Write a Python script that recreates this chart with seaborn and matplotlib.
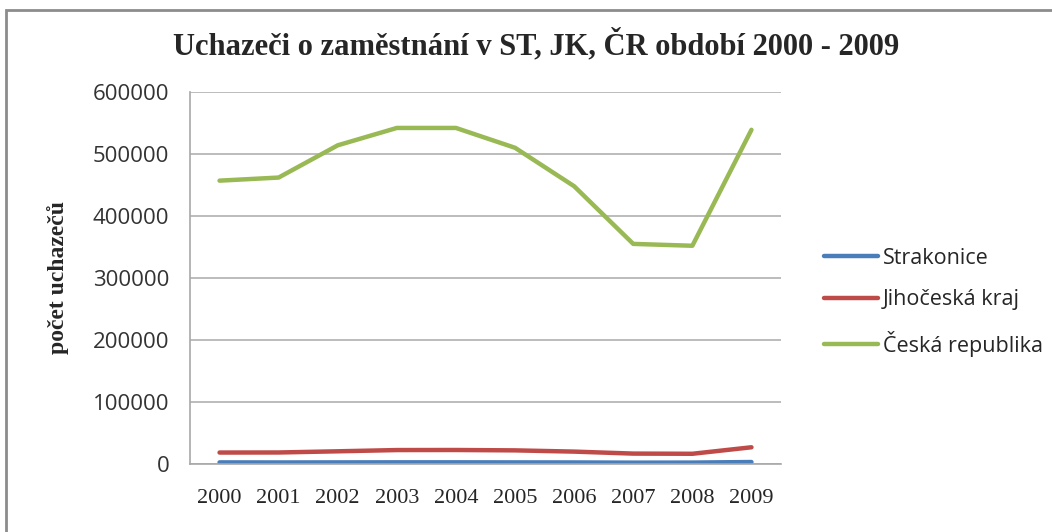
import matplotlib
matplotlib.use("Agg")
import matplotlib.pyplot as plt
from matplotlib.patches import Rectangle
import pandas as pd
import seaborn as sns

# data
years = ["2000", "2001", "2002", "2003", "2004", "2005", "2006", "2007", "2008", "2009"]
strakonice = [2600, 2500, 2600, 2700, 2700, 2600, 2500, 2200, 2300, 3200]
jihoceska = [18500, 18600, 20500, 22500, 22600, 22000, 20000, 16800, 16500, 27000]
cr = [457000, 462000, 514000, 542000, 542000, 510000, 448000, 355000, 352000, 539000]
series_names = ["Strakonice", "Jihočeská kraj", "Česká republika"]
colors = ["#4A7EBB", "#BE4B48", "#98B954"]

df = pd.DataFrame({
    "rok": years * 3,
    "pocet": strakonice + jihoceska + cr,
    "rada": [series_names[0]] * 10 + [series_names[1]] * 10 + [series_names[2]] * 10,
})

sns.set_style("white")
fig = plt.figure(figsize=(10.52, 5.32), dpi=100)
ax = fig.add_axes([0.1806, 0.1278, 0.7424 - 0.1806, 0.8271 - 0.1278])

sns.lineplot(data=df, x="rok", y="pocet", hue="rada", hue_order=series_names,
             palette=colors, linewidth=3.2, ax=ax, sort=False)

ax.set_xlim(-0.5, 9.5)
ax.set_ylim(0, 600000)
ax.set_yticks(range(0, 600001, 100000))
ax.yaxis.grid(True, color="#B0B0B0", linewidth=1.2)
ax.xaxis.grid(False)
for s in ["top", "right"]:
    ax.spines[s].set_visible(False)
for s in ["left", "bottom"]:
    ax.spines[s].set_color("#A8A8A8")
    ax.spines[s].set_linewidth(1.2)
ax.tick_params(axis="y", length=0, pad=15)
ax.tick_params(axis="x", length=0, pad=18)
for lab in ax.get_yticklabels():
    lab.set_fontfamily("Open Sans")
    lab.set_fontsize(16)
    lab.set_color("#333333")
for lab in ax.get_xticklabels():
    lab.set_fontfamily("Liberation Serif")
    lab.set_fontsize(16)
ax.set_xlabel("")
ax.set_ylabel("počet uchazečů", fontfamily="Liberation Serif", fontsize=17,
              fontweight="bold", labelpad=17)

ax.legend(title=None, frameon=False, loc="center left", bbox_to_anchor=(1.04, 0.435),
          prop={"family": "Open Sans", "size": 15.5}, handlelength=2.5,
          handletextpad=0.25, labelspacing=0.95)

fig.text(0.51, 0.915, "Uchazeči o zaměstnání v ST, JK, ČR období 2000 - 2009",
         ha="center", va="center", fontfamily="Liberation Serif",
         fontsize=22, fontweight="bold")

# chart area border (only top and left edges visible)
fig.patches.append(Rectangle((6 / 1052, -0.1), 1.1, 1.1 - 10 / 532,
                             transform=fig.transFigure, fill=False,
                             edgecolor="#8C8C8C", linewidth=2))

fig.savefig("out.png", dpi=100)
